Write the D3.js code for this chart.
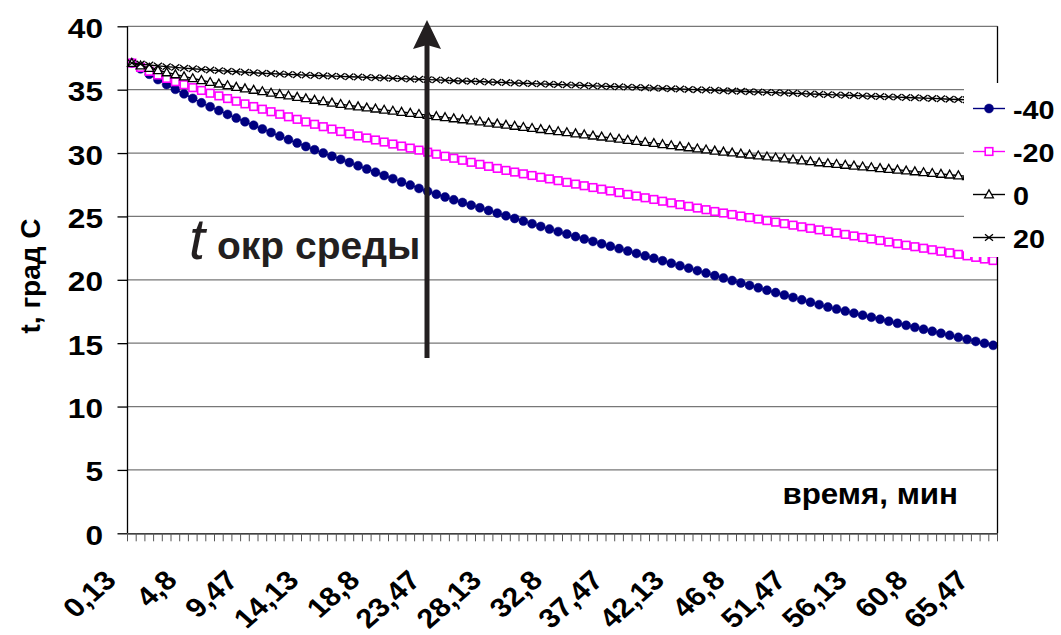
<!DOCTYPE html>
<html>
<head>
<meta charset="utf-8">
<script src="https://cdn.jsdelivr.net/npm/d3@7"></script>
<style>
  body { margin: 0; background: #fff; }
  text { font-family: "Liberation Sans", Arial, sans-serif; fill: #000; }
</style>
</head>
<body>
<svg id="chart" width="1061" height="635"></svg>
<script>
// x axis: 100 points, one every 40 s, label on every 7th
var tickLabels = ["0,13", "4,8", "9,47", "14,13", "18,8", "23,47", "28,13", "32,8",
  "37,47", "42,13", "46,8", "51,47", "56,13", "60,8", "65,47"];
var yTicks = [0, 5, 10, 15, 20, 25, 30, 35, 40];
var seriesNames = ["-40", "-20", "0", "20"];

// t ambient -40
var tMinus40 = [
  37.10, 36.65, 36.22, 35.80, 35.40, 35.03, 34.67, 34.31, 33.96, 33.65,
  33.35, 33.05, 32.76, 32.47, 32.19, 31.90, 31.62, 31.34, 31.06, 30.79,
  30.52, 30.26, 30.00, 29.75, 29.50, 29.25, 29.00, 28.74, 28.49, 28.23,
  27.98, 27.72, 27.47, 27.21, 26.98, 26.75, 26.53, 26.31, 26.10, 25.89,
  25.68, 25.47, 25.26, 25.05, 24.84, 24.63, 24.42, 24.21, 24.00, 23.80,
  23.61, 23.41, 23.22, 23.03, 22.84, 22.65, 22.46, 22.27, 22.08, 21.89,
  21.70, 21.50, 21.31, 21.11, 20.92, 20.72, 20.53, 20.33, 20.14, 19.94,
  19.75, 19.56, 19.37, 19.18, 18.99, 18.80, 18.61, 18.42, 18.23, 18.04,
  17.85, 17.69, 17.53, 17.37, 17.21, 17.05, 16.89, 16.73, 16.57, 16.41,
  16.25, 16.10, 15.94, 15.78, 15.62, 15.46, 15.30, 15.14, 14.99, 14.83
];
// t ambient -20
var tMinus20 = [
  37.10, 36.76, 36.45, 36.16, 35.89, 35.63, 35.39, 35.16, 34.94, 34.72,
  34.51, 34.30, 34.09, 33.88, 33.67, 33.46, 33.26, 33.06, 32.86, 32.66,
  32.46, 32.27, 32.08, 31.89, 31.70, 31.51, 31.35, 31.19, 31.03, 30.87,
  30.71, 30.55, 30.39, 30.23, 30.07, 29.91, 29.75, 29.59, 29.43, 29.27,
  29.11, 28.95, 28.79, 28.63, 28.50, 28.36, 28.23, 28.09, 27.96, 27.82,
  27.69, 27.55, 27.42, 27.28, 27.15, 27.01, 26.88, 26.74, 26.61, 26.47,
  26.34, 26.20, 26.07, 25.93, 25.80, 25.66, 25.53, 25.39, 25.27, 25.15,
  25.03, 24.91, 24.79, 24.67, 24.55, 24.43, 24.31, 24.18, 24.06, 23.94,
  23.82, 23.70, 23.58, 23.46, 23.34, 23.22, 23.10, 22.98, 22.85, 22.73,
  22.61, 22.49, 22.37, 22.25, 22.13, 22.01, 21.89, 21.77, 21.64, 21.52
];
// t ambient 0
var tZero = [
  37.10, 36.90, 36.71, 36.53, 36.36, 36.20, 36.04, 35.89, 35.74, 35.60,
  35.47, 35.34, 35.21, 35.09, 34.98, 34.87, 34.75, 34.64, 34.53, 34.42,
  34.31, 34.19, 34.08, 33.97, 33.86, 33.75, 33.67, 33.58, 33.50, 33.41,
  33.33, 33.24, 33.16, 33.07, 32.99, 32.90, 32.82, 32.73, 32.65, 32.56,
  32.48, 32.39, 32.31, 32.22, 32.14, 32.05, 31.97, 31.88, 31.80, 31.71,
  31.63, 31.54, 31.46, 31.37, 31.29, 31.20, 31.12, 31.03, 30.95, 30.86,
  30.78, 30.69, 30.61, 30.52, 30.44, 30.35, 30.27, 30.18, 30.10, 30.03,
  29.95, 29.87, 29.80, 29.72, 29.64, 29.57, 29.49, 29.41, 29.34, 29.26,
  29.19, 29.13, 29.06, 29.00, 28.93, 28.87, 28.80, 28.74, 28.68, 28.61,
  28.55, 28.48, 28.42, 28.35, 28.29, 28.23, 28.16, 28.10, 28.04, 27.97
];
// t ambient 20
var tPlus20 = [
  37.10, 37.02, 36.95, 36.88, 36.82, 36.76, 36.70, 36.65, 36.60, 36.55,
  36.50, 36.46, 36.42, 36.38, 36.34, 36.30, 36.27, 36.24, 36.21, 36.18,
  36.15, 36.12, 36.10, 36.07, 36.05, 36.02, 36.00, 35.97, 35.94, 35.92,
  35.89, 35.87, 35.84, 35.82, 35.79, 35.77, 35.74, 35.71, 35.69, 35.66,
  35.64, 35.61, 35.59, 35.56, 35.53, 35.51, 35.48, 35.46, 35.43, 35.41,
  35.38, 35.36, 35.33, 35.30, 35.28, 35.25, 35.23, 35.20, 35.18, 35.15,
  35.12, 35.10, 35.07, 35.05, 35.02, 35.00, 34.97, 34.95, 34.92, 34.89,
  34.87, 34.84, 34.82, 34.79, 34.77, 34.74, 34.72, 34.69, 34.66, 34.64,
  34.61, 34.59, 34.56, 34.54, 34.51, 34.48, 34.46, 34.43, 34.41, 34.38,
  34.36, 34.33, 34.31, 34.28, 34.25, 34.23, 34.20, 34.18, 34.15, 34.13
];

var plotLeft = 127.5, plotRight = 997.5, plotTop = 26.3, plotBottom = 533.3;
var sx = 1.13; // text in the original is a bit wider than tall

var svg = d3.select("#chart");

var x = d3.scaleBand()
    .domain(d3.range(tMinus40.length))
    .range([plotLeft, plotRight])
    .padding(0);
var y = d3.scaleLinear().domain([0, 40]).range([plotBottom, plotTop]);
var cx = function(i) { return x(i) + x.bandwidth() / 2; };

// gridlines
svg.append("g")
    .selectAll("line")
    .data(yTicks.filter(function(v) { return v > 0; }))
    .join("line")
    .attr("x1", plotLeft).attr("x2", plotRight)
    .attr("y1", function(v) { return y(v); })
    .attr("y2", function(v) { return y(v); })
    .attr("stroke", "#777")
    .attr("stroke-width", 1.3);

// series
var series = [
  { name: seriesNames[0], values: tMinus40, color: "#000080", marker: "circle" },
  { name: seriesNames[1], values: tMinus20, color: "#ff00ff", marker: "square" },
  { name: seriesNames[2], values: tZero, color: "#000000", marker: "triangle" },
  { name: seriesNames[3], values: tPlus20, color: "#000000", marker: "cross" }
];

function drawMarker(g, type, color) {
  if (type == "circle") {
    g.append("circle").attr("r", 4.5).attr("fill", color).attr("stroke", color).attr("stroke-width", 0.5);
  } else if (type == "square") {
    g.append("rect").attr("x", -3.8).attr("y", -3.8).attr("width", 7.6).attr("height", 7.6)
        .attr("fill", "#fff").attr("stroke", color).attr("stroke-width", 1.6);
  } else if (type == "triangle") {
    g.append("path").attr("d", "M0,-4.6L4.4,3.3L-4.4,3.3Z")
        .attr("fill", "#fff").attr("stroke", color).attr("stroke-width", 1.3);
  } else {
    g.append("path").attr("d", "M-4,-3.2L4,3.2M-4,3.2L4,-3.2")
        .attr("fill", "none").attr("stroke", color).attr("stroke-width", 1.3);
  }
}

var line = d3.line()
    .x(function(d, i) { return cx(i); })
    .y(function(d) { return y(d); });

series.forEach(function(s) {
  var g = svg.append("g");
  g.append("path")
      .attr("d", line(s.values))
      .attr("fill", "none")
      .attr("stroke", s.color)
      .attr("stroke-width", 1.4);
  g.selectAll("g.pt")
      .data(s.values)
      .join("g")
      .attr("class", "pt")
      .attr("transform", function(d, i) { return "translate(" + cx(i) + "," + y(d) + ")"; })
      .each(function() { drawMarker(d3.select(this), s.marker, s.color); });
});

// axes and frame
svg.append("line").attr("x1", plotLeft).attr("x2", plotLeft).attr("y1", plotTop).attr("y2", plotBottom)
    .attr("stroke", "#000").attr("stroke-width", 1.3);
svg.append("line").attr("x1", plotRight).attr("x2", plotRight).attr("y1", plotTop).attr("y2", plotBottom)
    .attr("stroke", "#000").attr("stroke-width", 1.3);

var yAxis = svg.append("g")
    .attr("transform", "translate(" + plotLeft + ",0)")
    .call(d3.axisLeft(y).tickValues(yTicks).tickSize(10).tickFormat(""));
yAxis.select(".domain").remove();
yAxis.selectAll(".tick line").attr("stroke", "#000").attr("stroke-width", 1.3);

var xAxis = svg.append("g")
    .attr("transform", "translate(0," + plotBottom + ")")
    .call(d3.axisBottom(x).tickValues([]).tickSizeOuter(0));
xAxis.select(".domain").attr("stroke", "#000").attr("stroke-width", 1.3);
// tick marks on every category boundary
xAxis.selectAll("line.minor")
    .data(d3.range(tMinus40.length + 1))
    .join("line")
    .attr("class", "minor")
    .attr("x1", function(i) { return plotLeft + i * x.bandwidth(); })
    .attr("x2", function(i) { return plotLeft + i * x.bandwidth(); })
    .attr("y1", 0).attr("y2", 8)
    .attr("stroke", "#555").attr("stroke-width", 1);

// y tick labels
svg.append("g")
    .selectAll("text")
    .data(yTicks)
    .join("text")
    .attr("transform", function(v) { return "translate(103," + (y(v) + 11.5) + ") scale(" + sx + ",1)"; })
    .attr("text-anchor", "end")
    .style("font-size", "28px")
    .style("font-weight", "bold")
    .text(function(v) { return v; });

// x tick labels, rotated
svg.append("g")
    .selectAll("text")
    .data(tickLabels)
    .join("text")
    .attr("transform", function(d, k) {
      return "translate(" + (cx(k * 7) - 14) + ",582) scale(" + sx + ",1) rotate(-45)";
    })
    .attr("text-anchor", "end")
    .style("font-size", "27px")
    .style("font-weight", "bold")
    .text(function(d) { return d; });

// axis titles
svg.append("text")
    .attr("transform", "translate(40,276) rotate(-90)")
    .attr("text-anchor", "middle")
    .style("font-size", "28px")
    .style("font-weight", "bold")
    .text("t, град С");

svg.append("text")
    .attr("transform", "translate(958,504) scale(1.08,1)")
    .attr("text-anchor", "end")
    .style("font-size", "29px")
    .style("font-weight", "bold")
    .text("время, мин");

// legend (covers the right end of the plot)
svg.append("rect")
    .attr("x", 964).attr("y", 83)
    .attr("width", 97).attr("height", 174)
    .attr("fill", "#fff");

var legend = svg.append("g")
    .selectAll("g")
    .data(series)
    .join("g")
    .attr("transform", function(d, i) { return "translate(973," + (108.5 + i * 43) + ")"; });
legend.append("line")
    .attr("x1", 0).attr("x2", 32)
    .attr("stroke", function(d) { return d.color; })
    .attr("stroke-width", 1.4);
legend.each(function(d) {
  var m = d3.select(this).append("g").attr("transform", "translate(16,0)");
  drawMarker(m, d.marker, d.color);
});
legend.append("text")
    .attr("transform", "translate(40,10) scale(1.15,1)")
    .style("font-size", "25px")
    .style("font-weight", "bold")
    .text(function(d) { return d.name; });

// arrow: rising ambient temperature
var ink = "#231f20";
svg.append("line")
    .attr("x1", 427).attr("x2", 427)
    .attr("y1", 358).attr("y2", 45)
    .attr("stroke", ink).attr("stroke-width", 5);
svg.append("path")
    .attr("d", "M413,49L427,20L441,49L427,45Z")
    .attr("fill", ink);

svg.append("text")
    .attr("x", 189).attr("y", 259)
    .style("font-size", "58px")
    .style("font-style", "italic")
    .style("fill", ink)
    .text("t");
svg.append("text")
    .attr("x", 217).attr("y", 259)
    .style("font-size", "39px")
    .style("font-weight", "bold")
    .style("fill", ink)
    .text("окр среды");
</script>
</body>
</html>
